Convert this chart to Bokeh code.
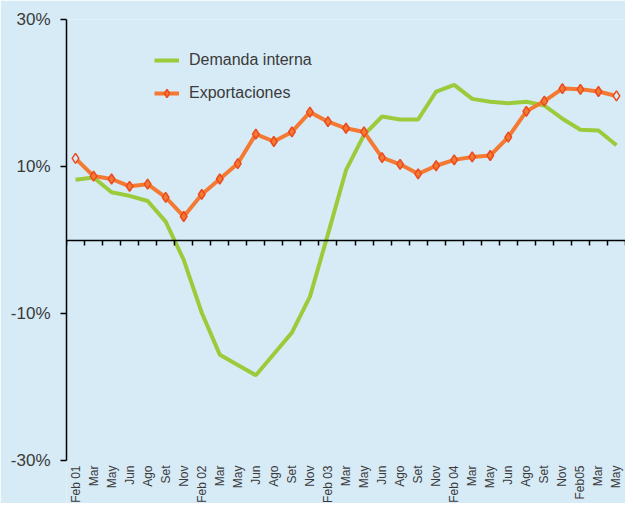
from math import pi
from bokeh.plotting import figure
from bokeh.models import (Range1d, FixedTicker, LinearAxis, Legend, LegendItem,
                          PrintfTickFormatter)
from bokeh.embed import file_html
from bokeh.resources import INLINE

categories = ["Feb 01", "Mar", "May", "Jun", "Ago", "Set", "Nov",
              "Feb 02", "Mar", "May", "Jun", "Ago", "Set", "Nov",
              "Feb 03", "Mar", "May", "Jun", "Ago", "Set", "Nov",
              "Feb 04", "Mar", "May", "Jun", "Ago", "Set", "Nov",
              "Feb05", "Mar", "May"]

demanda_interna = [8.2, 8.5, 6.5, 6.0, 5.3, 2.5, -2.7,
                   -9.9, -15.6, -17.0, -18.4, -15.5, -12.6, -7.7,
                   0.8, 9.5, 14.3, 16.8, 16.4, 16.4, 20.2,
                   21.1, 19.2, 18.8, 18.6, 18.8, 18.3, 16.5,
                   15.0, 14.9, 12.9]

exportaciones = [11.1, 8.7, 8.3, 7.3, 7.6, 5.8, 3.2,
                 6.2, 8.3, 10.4, 14.4, 13.4, 14.7, 17.4,
                 16.1, 15.2, 14.7, 11.2, 10.3, 9.0, 10.1,
                 10.9, 11.3, 11.5, 14.0, 17.5, 18.9, 20.6,
                 20.5, 20.2, 19.6]

y_ticks = [-30, -10, 10, 30]

BG = "#d6ebf6"
GREEN = "#9bcb3b"
ORANGE = "#f47a33"
RED = "#ec4a1e"
TEXT = "#3a3a3a"
FONT = "Liberation Sans"

n = len(categories)
xs = [i + 0.5 for i in range(n)]

p = figure(width=625, height=503, output_backend="svg", toolbar_location=None,
           x_range=Range1d(0, n), y_range=Range1d(-35.85, 30),
           min_border_left=66, min_border_right=0, min_border_top=19,
           min_border_bottom=0, x_axis_location=None)
p.background_fill_color = BG
p.border_fill_color = BG
p.outline_line_color = None
p.xgrid.visible = False
p.ygrid.visible = False

# y axis
ya = p.yaxis[0]
ya.ticker = FixedTicker(ticks=y_ticks)
ya.formatter = PrintfTickFormatter(format="%d%%")
ya.bounds = (-30, 30)
ya.major_tick_out = 6
ya.major_tick_in = 0
ya.minor_tick_line_color = None
ya.axis_line_color = "black"
ya.axis_line_width = 1.5
ya.major_tick_line_color = "black"
ya.major_tick_line_width = 1.5
ya.major_label_text_font = FONT
ya.major_label_text_font_size = "17px"
ya.major_label_text_color = TEXT
ya.major_label_standoff = 10

# zero line axis with ticks at the category boundaries (minor ticks, no labels)
zero_axis = LinearAxis(fixed_location=0,
                       ticker=FixedTicker(ticks=[], minor_ticks=list(range(n + 1))),
                       major_tick_line_color=None,
                       minor_tick_out=5, minor_tick_in=0,
                       minor_tick_line_color="black", minor_tick_line_width=1.5,
                       axis_line_color="black", axis_line_width=1.5)
p.add_layout(zero_axis, "below")

# category labels below the -30% level
label_axis = LinearAxis(fixed_location=-30,
                        ticker=FixedTicker(ticks=xs),
                        major_label_overrides={x: c for x, c in zip(xs, categories)},
                        axis_line_color=None, major_tick_line_color=None,
                        minor_tick_line_color=None, major_tick_out=0, major_tick_in=0,
                        major_label_orientation=pi / 2, major_label_standoff=5,
                        major_label_text_font=FONT, major_label_text_font_size="12px",
                        major_label_text_color=TEXT)
p.add_layout(label_axis, "below")

g = p.line(xs, demanda_interna, line_color=GREEN, line_width=4)
o = p.line(xs, exportaciones, line_color=ORANGE, line_width=4)
fills = [BG if i in (0, n - 1) else ORANGE for i in range(n)]
s = p.scatter(xs, exportaciones, marker="diamond", size=10, fill_color=fills,
              line_color=RED, line_width=1.5)

legend = Legend(items=[LegendItem(label="Demanda interna", renderers=[g]),
                       LegendItem(label="Exportaciones", renderers=[o, s], index=1)],
                location=(88, 400), border_line_color=None, background_fill_alpha=0,
                padding=0, margin=0, spacing=13, glyph_width=25, glyph_height=20,
                label_height=20, label_standoff=10, label_text_font=FONT,
                label_text_font_size="16px", label_text_color=TEXT)
p.add_layout(legend)

open("out.html", "w").write(file_html(p, INLINE))
